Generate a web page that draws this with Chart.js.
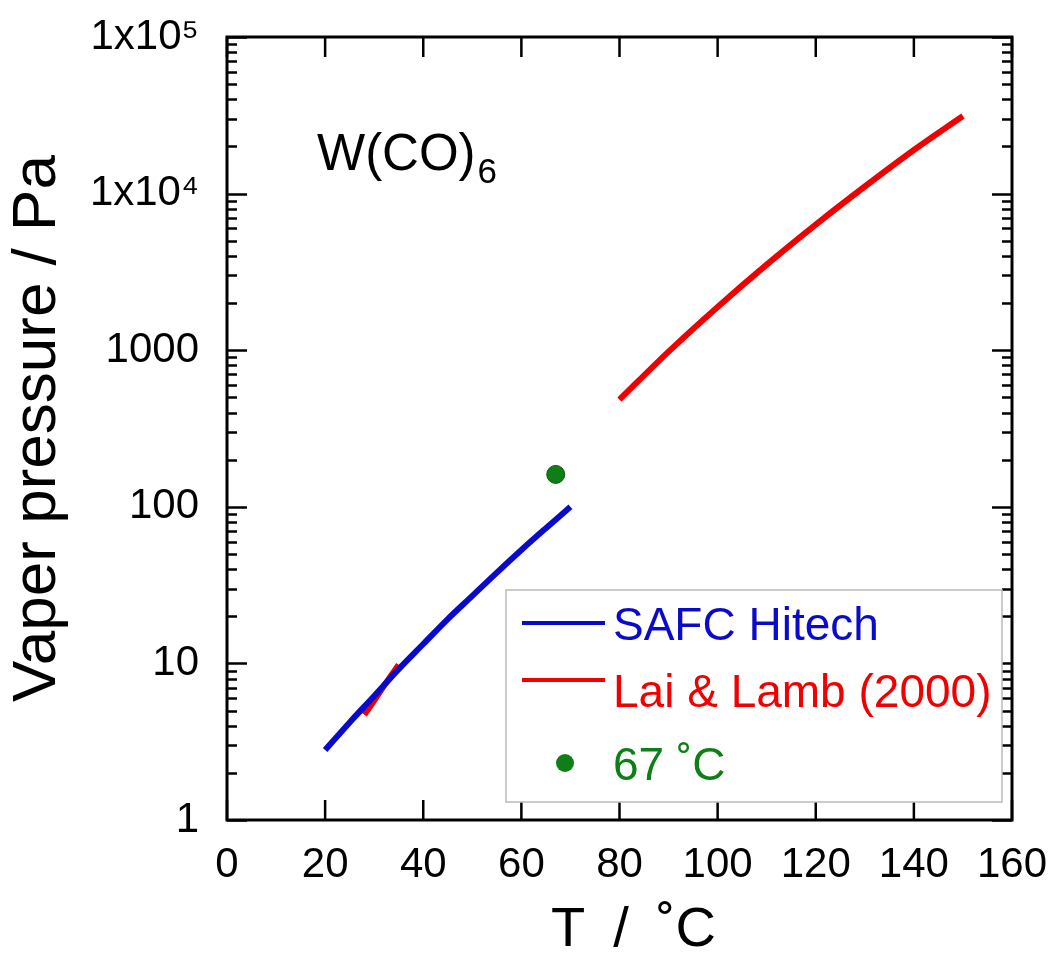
<!DOCTYPE html>
<html>
<head>
<meta charset="utf-8">
<script src="https://cdn.jsdelivr.net/npm/chart.js@4/dist/chart.umd.min.js"></script>
<style>
  body { margin: 0; background: #fff; }
  #wrap { width: 1055px; height: 959px; position: relative; }
</style>
</head>
<body>
<div id="wrap"><canvas id="vpChart"></canvas></div>
<script>
// W(CO)6 vapour pressure
const safcTemp = [20, 25, 30, 35, 40, 45, 50, 55, 60, 65, 70];
const safcPres = [2.8, 4.2, 6.2, 9.2, 13.3, 19.2, 27, 38, 53, 73, 100];

const laiLowTemp = [28, 30, 32, 35];
const laiLowPres = [4.7, 5.8, 7.2, 9.8];

const laiHighTemp = [80, 90, 100, 110, 120, 130, 140, 150];
const laiHighPres = [484, 980, 1890, 3520, 6340, 11100, 19000, 31300];

const pointTemp = [67];
const pointPres = [161];

const xTickValues = [0, 20, 40, 60, 80, 100, 120, 140, 160];
const yDecades = [1, 10, 100, 1000, 10000, 100000];
const yDecadeLabels = ['1', '10', '100', '1000', '1x10\u2074', '1x10\u2075'];

const FONT = '"Liberation Sans", Arial, Helvetica, sans-serif';
const BLUE = '#0a0acd';
const RED = '#f00000';
const GREEN = '#0d7f16';

function toPoints(xs, ys) {
    return xs.map((x, i) => ({ x: x, y: ys[i] }));
}

// all minor + major y tick values (1..9 x 10^k)
const yTickValues = [];
yDecades.forEach(d => {
    for (let m = 1; m <= 9; m++) {
        if (d * m <= yDecades[yDecades.length - 1]) yTickValues.push(d * m);
    }
});

const frameTicks = {
    id: 'frameTicks',
    afterDraw(chart) {
        const ctx = chart.ctx;
        const a = chart.chartArea;
        const xs = chart.scales.x;
        const ys = chart.scales.y;
        ctx.save();
        ctx.strokeStyle = '#000';
        ctx.lineWidth = 2.5;
        ctx.beginPath();
        xs.ticks.forEach(t => {
            const px = xs.getPixelForValue(t.value);
            ctx.moveTo(px, a.bottom); ctx.lineTo(px, a.bottom - 20);
            ctx.moveTo(px, a.top); ctx.lineTo(px, a.top + 20);
        });
        ys.ticks.forEach(t => {
            const py = Math.round(ys.getPixelForValue(t.value)) + 0.5;
            const len = yDecades.includes(t.value) ? 20 : 10;
            ctx.moveTo(a.left, py); ctx.lineTo(a.left + len, py);
            ctx.moveTo(a.right, py); ctx.lineTo(a.right - len, py);
        });
        ctx.stroke();
        ctx.lineWidth = 3;
        ctx.strokeRect(a.left, a.top, a.right - a.left, a.bottom - a.top);

        // compound name
        ctx.fillStyle = '#000';
        ctx.textBaseline = 'alphabetic';
        ctx.textAlign = 'left';
        ctx.font = '51px ' + FONT;
        const tx = a.left + 90, ty = a.top + 133;
        ctx.fillText('W(CO)', tx, ty);
        const w = ctx.measureText('W(CO)').width;
        ctx.font = '35px ' + FONT;
        ctx.fillText('6', tx + w + 2, ty + 13);

        // legend box
        const bx = a.left + 279, by = a.top + 553, bw = 496, bh = 212;
        ctx.fillStyle = '#fff';
        ctx.fillRect(bx, by, bw, bh);
        ctx.strokeStyle = '#bbbbbb';
        ctx.lineWidth = 1.5;
        ctx.strokeRect(bx, by, bw, bh);

        const items = [
            { text: chart.data.datasets[0].label, color: BLUE, kind: 'line', lineY: 33, baseY: 50 },
            { text: chart.data.datasets[1].label, color: RED, kind: 'line', lineY: 90, baseY: 117 },
            { text: chart.data.datasets[3].label, color: GREEN, kind: 'dot', lineY: 173, baseY: 190 }
        ];
        ctx.font = '46px ' + FONT;
        items.forEach(it => {
            if (it.kind === 'line') {
                ctx.strokeStyle = it.color;
                ctx.lineWidth = 4;
                ctx.beginPath();
                ctx.moveTo(bx + 16, by + it.lineY);
                ctx.lineTo(bx + 99, by + it.lineY);
                ctx.stroke();
            } else {
                ctx.fillStyle = it.color;
                ctx.beginPath();
                ctx.arc(bx + 59, by + it.lineY, 9, 0, Math.PI * 2);
                ctx.fill();
            }
            ctx.fillStyle = it.color;
            ctx.fillText(it.text, bx + 107, by + it.baseY);
        });
        ctx.restore();
    }
};

const ctx = document.getElementById('vpChart').getContext('2d');
new Chart(ctx, {
    type: 'scatter',
    data: {
        datasets: [
            {
                label: 'SAFC Hitech',
                data: toPoints(safcTemp, safcPres),
                showLine: true,
                borderColor: BLUE,
                borderWidth: 6,
                pointRadius: 0,
                cubicInterpolationMode: 'monotone'
            },
            {
                label: 'Lai & Lamb (2000)',
                data: toPoints(laiLowTemp, laiLowPres),
                showLine: true,
                borderColor: RED,
                borderWidth: 6,
                pointRadius: 0,
                cubicInterpolationMode: 'monotone'
            },
            {
                label: 'Lai & Lamb (2000) high',
                data: toPoints(laiHighTemp, laiHighPres),
                showLine: true,
                borderColor: RED,
                borderWidth: 6,
                pointRadius: 0,
                cubicInterpolationMode: 'monotone'
            },
            {
                label: '67 \u02DAC',
                data: toPoints(pointTemp, pointPres),
                showLine: false,
                backgroundColor: GREEN,
                borderColor: '#0a5a10',
                borderWidth: 1,
                pointRadius: 9
            }
        ]
    },
    options: {
        responsive: true,
        maintainAspectRatio: false,
        animation: false,
        layout: { padding: { top: 37, right: 43, left: 0, bottom: 0 } },
        plugins: {
            legend: { display: false },
            tooltip: { enabled: false }
        },
        scales: {
            x: {
                type: 'linear',
                min: 0,
                max: 160,
                afterBuildTicks: s => { s.ticks = xTickValues.map(v => ({ value: v })); },
                afterFit: s => { s.height = 139; s.paddingLeft = 0; s.paddingRight = 0; },
                grid: { display: false },
                border: { display: false },
                ticks: {
                    color: '#000',
                    padding: 12,
                    font: { family: FONT, size: 42 },
                    maxRotation: 0
                },
                title: {
                    display: true,
                    text: '\u2002T\u2002/\u2002\u02DAC',
                    color: '#000',
                    padding: 0,
                    font: { family: FONT, size: 56, lineHeight: 1 }
                }
            },
            y: {
                type: 'logarithmic',
                min: 1,
                max: 100000,
                afterBuildTicks: s => { s.ticks = yTickValues.map(v => ({ value: v, major: yDecades.includes(v) })); },
                afterFit: s => { s.width = 227; s.paddingTop = 0; s.paddingBottom = 0; },
                grid: { display: false },
                border: { display: false },
                ticks: {
                    color: '#000',
                    padding: 20,
                    autoSkip: false,
                    font: { family: FONT, size: 42 },
                    callback: v => {
                        const i = yDecades.indexOf(v);
                        return i >= 0 ? yDecadeLabels[i] : '';
                    }
                },
                title: {
                    display: true,
                    text: 'Vaper pressure / Pa',
                    color: '#000',
                    padding: { top: 1, bottom: 1 },
                    font: { family: FONT, size: 62 }
                }
            }
        }
    },
    plugins: [frameTicks]
});
</script>
</body>
</html>
